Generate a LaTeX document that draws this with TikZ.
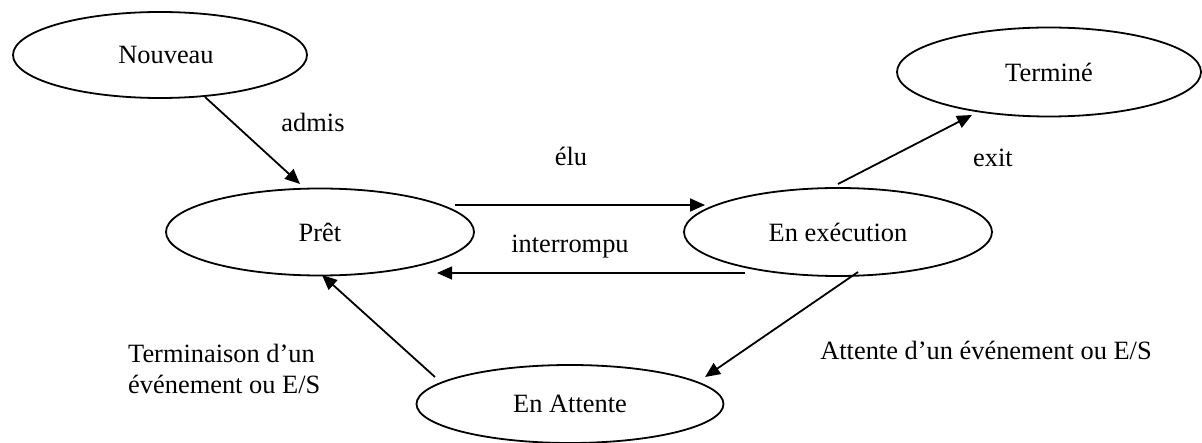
\documentclass[tikz,border=0pt]{standalone}
\usepackage{fontspec}
\setmainfont{Liberation Serif}
\usetikzlibrary{shapes.geometric,arrows.meta,calc}
\begin{document}
\begin{tikzpicture}[x=1pt,y=-1pt,
  state/.style={draw,ellipse,line width=1.8pt,inner sep=0pt,font=\fontsize{26.4}{32}\selectfont},
  lbl/.style={inner sep=0pt,font=\fontsize{26.4}{31}\selectfont},
  arr/.style={line width=1.8pt,-{Triangle[length=15pt,width=13pt]}}]
\useasboundingbox (0,0) rectangle (1202,443);
\node[state,minimum width=294pt,minimum height=86pt] (nouv) at (160,55) {\hspace{12pt}Nouveau};
\node[state,minimum width=308pt,minimum height=87pt] (pret) at (320,232) {Prêt};
\node[state,minimum width=308pt,minimum height=88pt] (exec) at (838,232) {En exécution};
\node[state,minimum width=304pt,minimum height=89pt] (term) at (1049,72) {Terminé};
\node[state,minimum width=307pt,minimum height=78pt] (att) at (570,404) {En Attente};
\draw[arr] ($(nouv.center)+(45,42)$) -- ($(pret.center)+(-20,-48)$);
\draw[arr] ($(pret.center)+(135,-27)$) -- ($(exec.center)+(-133,-27)$);
\draw[arr,line width=1.3pt] ($(exec.center)+(-93,41)$) -- ($(pret.center)+(117,41)$);
\draw[arr] ($(exec.center)+(0,-48)$) -- ($(term.center)+(-77,43)$);
\draw[arr] ($(exec.center)+(20,40)$) -- ($(att.center)+(135,-27)$);
\draw[arr] ($(att.center)+(-135,-27)$) -- ($(pret.center)+(2,43)$);
\node[lbl,anchor=base] (admis) at (313,132) {admis};
\node[lbl,anchor=base] (elu) at (571,166) {élu};
\node[lbl,anchor=base] (interr) at (570,253) {interrompu};
\node[lbl,anchor=base] (exit) at (993,167) {exit};
\node[lbl,align=left,anchor=west] (termin) at (128,369) {Terminaison d’un\\événement ou E/S};
\node[lbl,anchor=base] (attente) at (986,360) {Attente d’un événement ou E/S};
\end{tikzpicture}
\end{document}
